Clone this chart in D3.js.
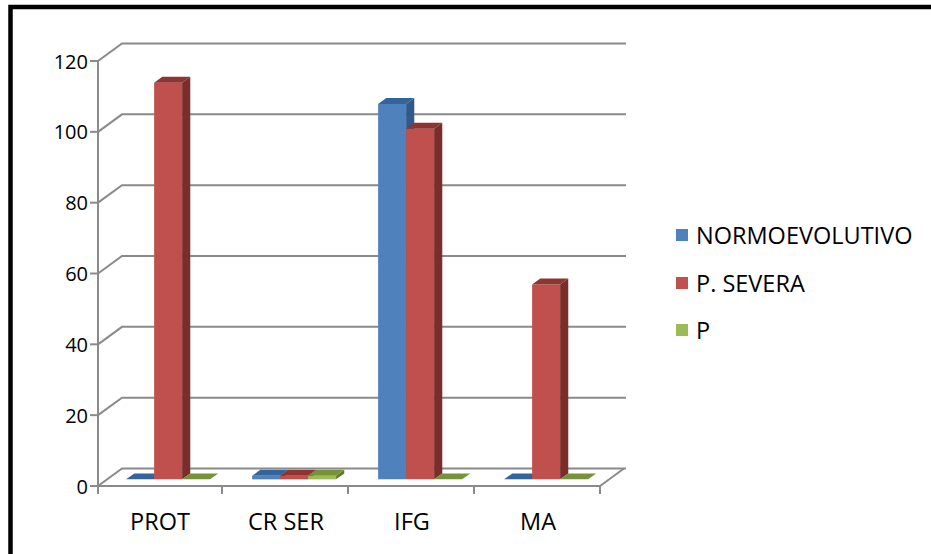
<!DOCTYPE html>
<html>
<head>
<meta charset="utf-8">
<script src="https://cdn.jsdelivr.net/npm/d3@7"></script>
<style>
  html, body { margin: 0; padding: 0; background: #fff; }
  svg { display: block; }
  text { font-family: "Open Sans", "Liberation Sans", sans-serif; fill: #000; }
</style>
</head>
<body>
<svg id="chart" width="931" height="554"></svg>
<script>
// Categories, series and values
const categories = ["PROT", "CR SER", "IFG", "MA"];
const seriesNames = ["NORMOEVOLUTIVO", "P. SEVERA", "P"];
const normoevolutivo = [0, 1, 106, 0];
const pSevera = [112, 1, 99, 55];
const pSeries = [0, 1, 0, 0];
const yTicks = [0, 20, 40, 60, 80, 100, 120];

const seriesValues = [normoevolutivo, pSevera, pSeries];

// Face colours per series: front, side, top
const palette = [
  { front: "#4f81bd", side: "#2f5a8a", top: "#34649c" },
  { front: "#c0504d", side: "#7a2e2c", top: "#8e3533" },
  { front: "#9bbb59", side: "#5f7a2a", top: "#76933c" }
];

const svg = d3.select("#chart");

// Outer frame
svg.append("rect")
  .attr("x", 10.5).attr("y", 7)
  .attr("width", 960).attr("height", 600)
  .attr("fill", "none").attr("stroke", "#000").attr("stroke-width", 4.5);

// Front plane scales
const x = d3.scaleBand().domain(categories).range([96, 600]).paddingInner(0).paddingOuter(0);
const y = d3.scaleLinear().domain([0, 120]).range([486, 61]);

// Oblique depth vector for the full floor depth
const depth = { dx: 24, dy: -17.5 };
// Depth slab occupied by the columns (fraction of full depth)
const dFront = 0.38, dBack = 0.72;

const gridColor = "#8a8a8a";
const g = svg.append("g");

// Back wall gridlines with left side-wall diagonals
yTicks.forEach(t => {
  const yy = y(t);
  g.append("path")
    .attr("d", `M${x.range()[0] + 2},${yy} L${x.range()[0] + 2 + depth.dx},${yy + depth.dy} L${x.range()[1] + 2 + depth.dx},${yy + depth.dy}`)
    .attr("fill", "none").attr("stroke", gridColor).attr("stroke-width", 2);
});

// Floor outline
const fx0 = x.range()[0] + 2, fx1 = x.range()[1], fy = y(0);
g.append("path")
  .attr("d", `M${fx1},${fy} L${fx1 + depth.dx},${fy + depth.dy}`)
  .attr("fill", "none").attr("stroke", gridColor).attr("stroke-width", 2);
g.append("path")
  .attr("d", `M${fx0},${fy} L${fx1},${fy}`)
  .attr("fill", "none").attr("stroke", gridColor).attr("stroke-width", 2);

// Value axis (front left edge) with ticks and labels
g.append("line")
  .attr("x1", fx0).attr("x2", fx0).attr("y1", y(120)).attr("y2", y(0))
  .attr("stroke", gridColor).attr("stroke-width", 2);
yTicks.forEach(t => {
  g.append("line")
    .attr("x1", fx0 - 8).attr("x2", fx0).attr("y1", y(t)).attr("y2", y(t))
    .attr("stroke", gridColor).attr("stroke-width", 2);
  g.append("text")
    .attr("x", fx0 - 10).attr("y", y(t))
    .attr("text-anchor", "end").attr("dominant-baseline", "central")
    .attr("font-size", 20)
    .text(t);
});

// Category axis ticks and labels
const catEdges = categories.map(c => x(c)).concat([x.range()[1]]);
catEdges.forEach((cx, i) => {
  const xx = i === 0 ? fx0 : cx;
  g.append("line")
    .attr("x1", xx).attr("x2", xx).attr("y1", fy).attr("y2", fy + 8)
    .attr("stroke", gridColor).attr("stroke-width", 2);
});
categories.forEach(c => {
  g.append("text")
    .attr("x", x(c) + x.bandwidth() / 2 + 1).attr("y", 521)
    .attr("text-anchor", "middle").attr("dominant-baseline", "central")
    .attr("font-size", 23.5)
    .text(c);
});

// Inner band for the three series inside each category (150% gap width)
const barW = x.bandwidth() / 4.5;
const inner = d3.scaleBand().domain(d3.range(seriesNames.length))
  .range([barW * 0.75, barW * 3.75]).paddingInner(0);

// Columns, drawn left to right so nearer faces paint over
const bars = g.append("g");
categories.forEach((c, ci) => {
  seriesNames.forEach((s, si) => {
    const v = seriesValues[si][ci];
    const col = palette[si];
    const x0 = x(c) + inner(si) + depth.dx * dFront;
    const x1 = x0 + inner.bandwidth();
    const yb = y(0) + depth.dy * dFront;
    const yt = y(v) + depth.dy * dFront;
    const ddx = depth.dx * (dBack - dFront), ddy = depth.dy * (dBack - dFront);
    const grp = bars.append("g");
    // front face
    grp.append("path")
      .attr("d", `M${x0},${yb} L${x1},${yb} L${x1},${yt} L${x0},${yt} Z`)
      .attr("fill", col.front);
    // side face
    grp.append("path")
      .attr("d", `M${x1},${yb} L${x1 + ddx},${yb + ddy} L${x1 + ddx},${yt + ddy} L${x1},${yt} Z`)
      .attr("fill", col.side);
    // top face
    grp.append("path")
      .attr("d", `M${x0},${yt} L${x1},${yt} L${x1 + ddx},${yt + ddy} L${x0 + ddx},${yt + ddy} Z`)
      .attr("fill", col.top);
  });
});

// Legend
const legend = svg.append("g");
const legendY = [235, 283, 330];
seriesNames.forEach((s, i) => {
  legend.append("rect")
    .attr("x", 676).attr("y", legendY[i] - 6)
    .attr("width", 12).attr("height", 12)
    .attr("fill", palette[i].front);
  legend.append("text")
    .attr("x", 696).attr("y", legendY[i])
    .attr("dominant-baseline", "central")
    .attr("font-size", 23.5)
    .text(s);
});
</script>
</body>
</html>
